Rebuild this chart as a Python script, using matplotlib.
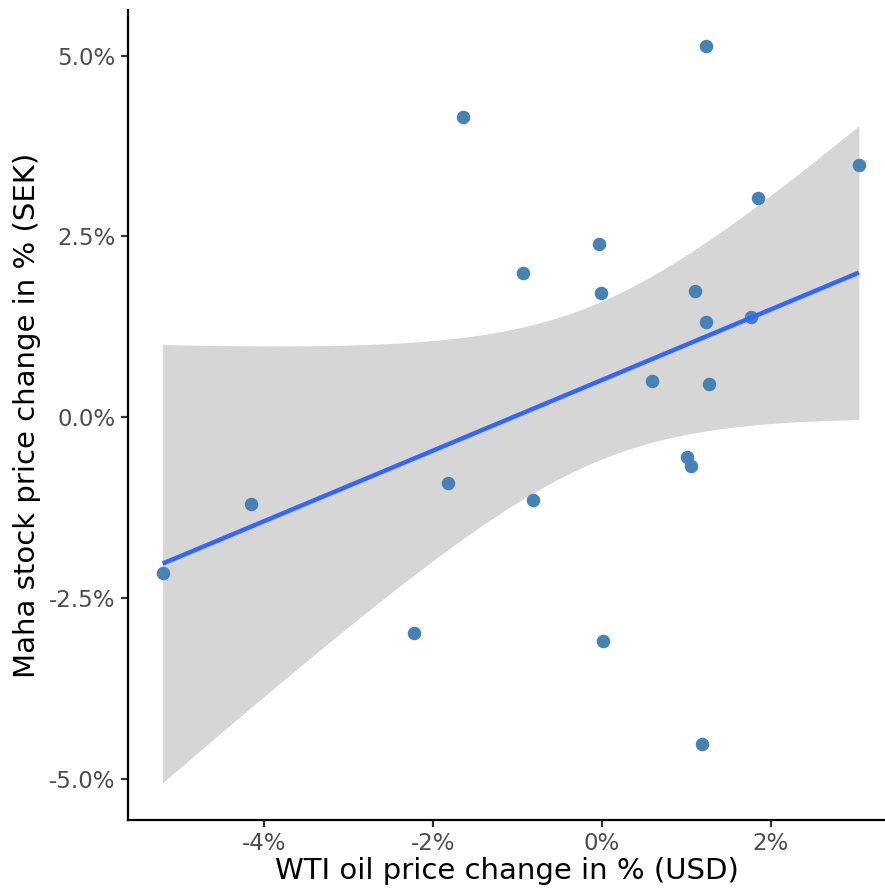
"""
Maha vs WTI: Streudiagramm mit linearer Regression und 95%-Band.
"""
import numpy as np
import matplotlib
matplotlib.use("Agg")
import matplotlib.pyplot as plt
from matplotlib.ticker import FuncFormatter

# Tagesänderungen in %
wti_change = [-5.20, -4.15, -2.22, -1.82, -1.64, -0.93, -0.82, -0.04, -0.01, 0.01,
              0.59, 1.01, 1.05, 1.10, 1.23, 1.23, 1.18, 1.27, 1.76, 1.85, 3.04]
maha_change = [-2.15, -1.20, -2.99, -0.91, 4.15, 1.99, -1.14, 2.39, 1.71, -3.10,
               0.50, -0.55, -0.68, 1.74, 5.13, 1.31, -4.52, 0.46, 1.39, 3.03, 3.49]

x_ticks = [-4, -2, 0, 2]
y_ticks = [-5.0, -2.5, 0.0, 2.5, 5.0]

T_975_DF19 = 2.093   # t-Quantil für 95%-Band, n-2 = 19

x = np.array(wti_change)
y = np.array(maha_change)

# ── lineare Regression wie geom_smooth(method="lm") ──────────────────────────
n = len(x)
slope, icpt = np.polyfit(x, y, 1)
resid = y - (icpt + slope * x)
s = np.sqrt(np.sum(resid ** 2) / (n - 2))
xg = np.linspace(x.min(), x.max(), 80)
yg = icpt + slope * xg
se = s * np.sqrt(1.0 / n + (xg - x.mean()) ** 2 / np.sum((x - x.mean()) ** 2))
lo, hi = yg - T_975_DF19 * se, yg + T_975_DF19 * se

fig = plt.figure(figsize=(8.85, 8.9), dpi=100)
ax = fig.add_axes([0.1446, 0.0787, 0.8554, 0.9101])

ax.fill_between(xg, lo, hi, color="#d6d6d6", lw=0, zorder=1)
ax.scatter(x, y, s=95, color="#4682B4", lw=0, zorder=2)
ax.plot(xg, yg, color="#3366FF", lw=3.2, zorder=3, solid_capstyle="butt")

ax.set_xlim(-5.61, 3.35)
ax.set_ylim(-5.57, 5.63)
ax.set_xticks(x_ticks)
ax.set_yticks(y_ticks)
ax.xaxis.set_major_formatter(FuncFormatter(lambda v, _: f"{v:.0f}%"))
ax.yaxis.set_major_formatter(FuncFormatter(lambda v, _: f"{v:.1f}%"))

for side in ("top", "right"):
    ax.spines[side].set_visible(False)
for side in ("left", "bottom"):
    ax.spines[side].set_linewidth(1.6)
ax.tick_params(length=5, width=1.6, color="#333333", labelcolor="#4d4d4d",
               labelsize=16.5, pad=4)

ax.set_xlabel("WTI oil price change in % (USD)", fontsize=21, labelpad=1)
ax.set_ylabel("Maha stock price change in % (SEK)", fontsize=21, labelpad=6)

fig.savefig("out.png", dpi=100)
